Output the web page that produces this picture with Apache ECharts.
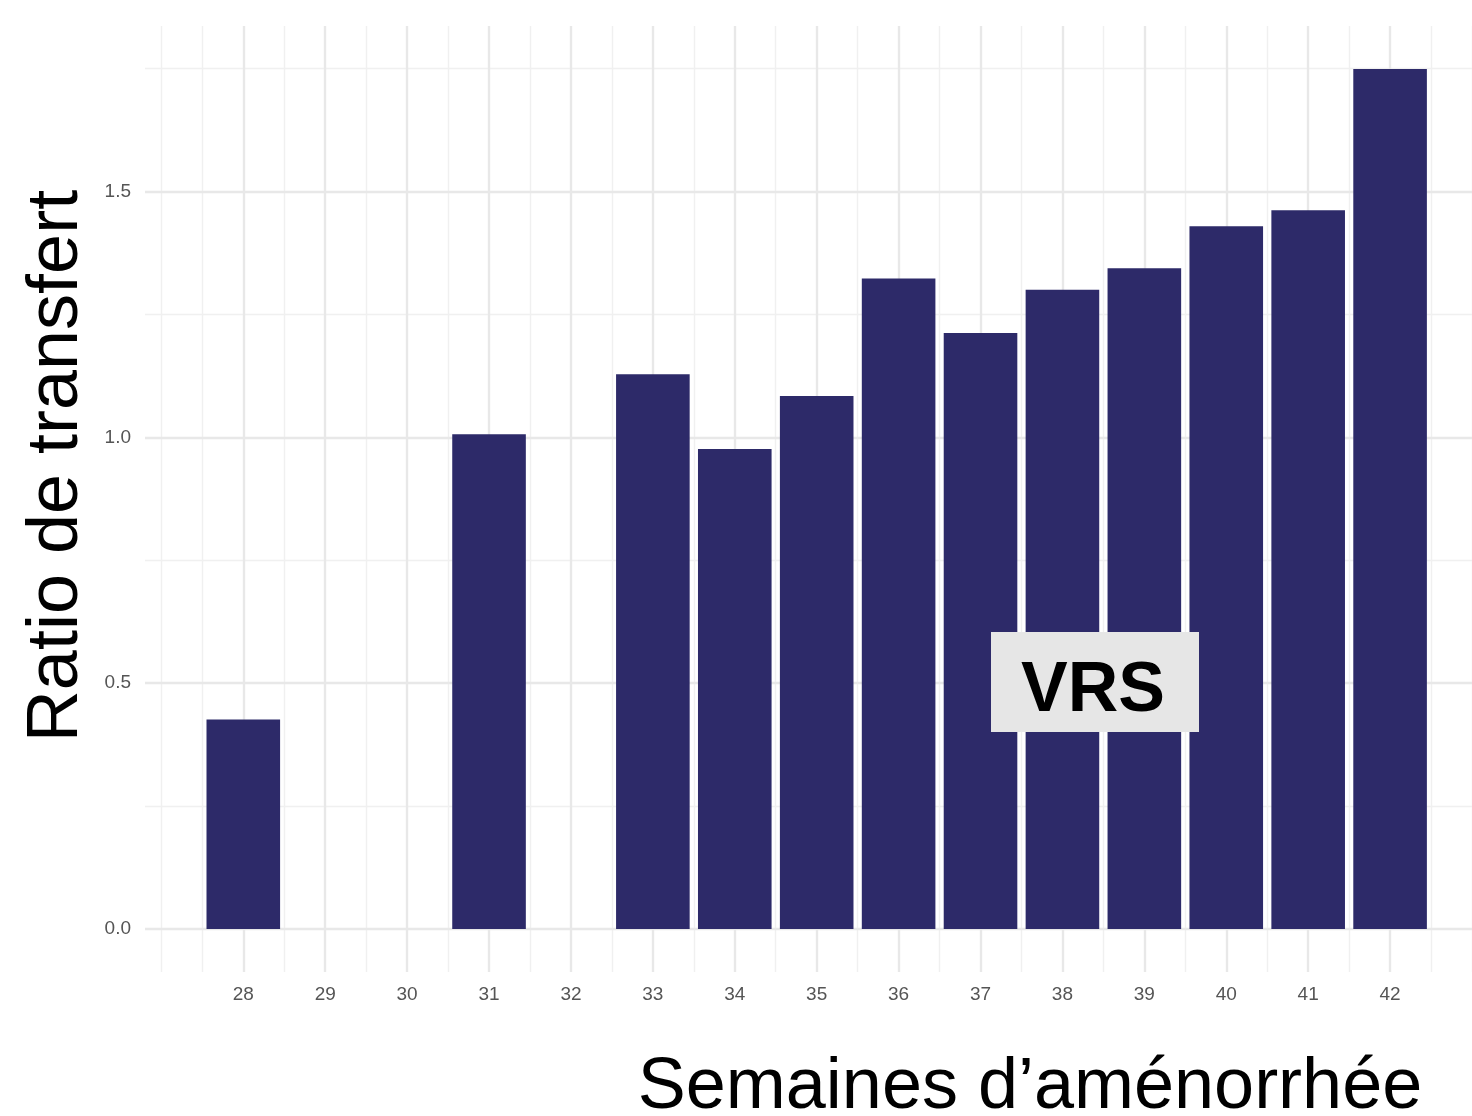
<!DOCTYPE html>
<html>
<head>
<meta charset="utf-8">
<script src="https://cdn.jsdelivr.net/npm/echarts@6/dist/echarts.min.js"></script>
<style>
  html, body { margin: 0; padding: 0; background: #ffffff; }
  #chart { width: 1472px; height: 1116px; }
</style>
</head>
<body>
<div id="chart"></div>
<script>
// Gestational weeks that have a measurement, and the transfer ratio for each
const weeks = [28, 31, 33, 34, 35, 36, 37, 38, 39, 40, 41, 42];
const ratios = [0.426, 1.006, 1.128, 0.976, 1.084, 1.323, 1.212, 1.300, 1.344, 1.429, 1.462, 1.749];

// Axis breaks: labelled (major) and unlabelled (minor) grid positions
const xLabelWeeks = [28, 29, 30, 31, 32, 33, 34, 35, 36, 37, 38, 39, 40, 41, 42];
const xMinorBreaks = [27, 27.5, 28.5, 29.5, 30.5, 31.5, 32.5, 33.5, 34.5, 35.5, 36.5, 37.5, 38.5, 39.5, 40.5, 41.5, 42.5, 43];
const yMajorBreaks = [0, 0.5, 1.0, 1.5];
const yMinorBreaks = [0.25, 0.75, 1.25, 1.75];

const xTitle = 'Semaines d\u2019aménorrhée';
const yTitle = 'Ratio de transfert';
const virusLabel = 'VRS';

const X_MIN = 26.8, X_MAX = 43.0;
const Y_MIN = -0.0875, Y_MAX = 1.8365;

const majorGrid = { show: true, lineStyle: { color: '#e8e8e8', width: 2.4 } };
const minorGrid = { show: true, lineStyle: { color: '#f0f0f0', width: 1.4 } };
const tickText = { fontFamily: 'Liberation Sans, Arial, sans-serif', fontSize: 19, color: '#555555' };

const chart = echarts.init(document.getElementById('chart'), null, { renderer: 'canvas' });

chart.setOption({
  animation: false,
  backgroundColor: '#ffffff',
  grid: { left: 145, top: 26, right: 0, height: 946, containLabel: false },
  xAxis: [
    {
      type: 'value', min: X_MIN, max: X_MAX, z: 2,
      axisLine: { show: false },
      axisTick: { show: false, customValues: xLabelWeeks },
      axisLabel: Object.assign({ customValues: xLabelWeeks, margin: 13, formatter: v => String(v) }, tickText),
      splitLine: majorGrid
    },
    {
      type: 'value', min: X_MIN, max: X_MAX, position: 'bottom', z: 1,
      axisLine: { show: false },
      axisTick: { show: false, customValues: xMinorBreaks },
      axisLabel: { show: false },
      splitLine: minorGrid
    }
  ],
  yAxis: [
    {
      type: 'value', min: Y_MIN, max: Y_MAX, z: 2,
      axisLine: { show: false },
      axisTick: { show: false, customValues: yMajorBreaks },
      axisLabel: Object.assign({ customValues: yMajorBreaks, margin: 14, formatter: v => v.toFixed(1) }, tickText),
      splitLine: majorGrid
    },
    {
      type: 'value', min: Y_MIN, max: Y_MAX, position: 'left', z: 1,
      axisLine: { show: false },
      axisTick: { show: false, customValues: yMinorBreaks },
      axisLabel: { show: false },
      splitLine: minorGrid
    }
  ],
  series: [
    {
      type: 'bar',
      xAxisIndex: 0,
      yAxisIndex: 0,
      barWidth: 73.6,
      itemStyle: { color: '#2d2a69' },
      data: weeks.map((w, i) => [w, ratios[i]])
    }
  ],
  graphic: [
    {
      type: 'text',
      x: 57, y: 466,
      rotation: Math.PI / 2,
      style: {
        text: yTitle,
        font: '72px "Liberation Sans", Arial, sans-serif',
        fill: '#000000',
        textAlign: 'center',
        textVerticalAlign: 'middle'
      }
    },
    {
      type: 'text',
      x: 1030, y: 1088,
      style: {
        text: xTitle,
        font: '72px "Liberation Sans", Arial, sans-serif',
        fill: '#000000',
        textAlign: 'center',
        textVerticalAlign: 'middle'
      }
    },
    {
      type: 'rect',
      z: 100,
      shape: { x: 991, y: 632, width: 208, height: 100 },
      style: { fill: '#e6e6e6' }
    },
    {
      type: 'text',
      z: 101,
      x: 1093, y: 692,
      style: {
        text: virusLabel,
        font: 'bold 70px "Liberation Sans", Arial, sans-serif',
        fill: '#000000',
        textAlign: 'center',
        textVerticalAlign: 'middle'
      }
    }
  ]
});
</script>
</body>
</html>
